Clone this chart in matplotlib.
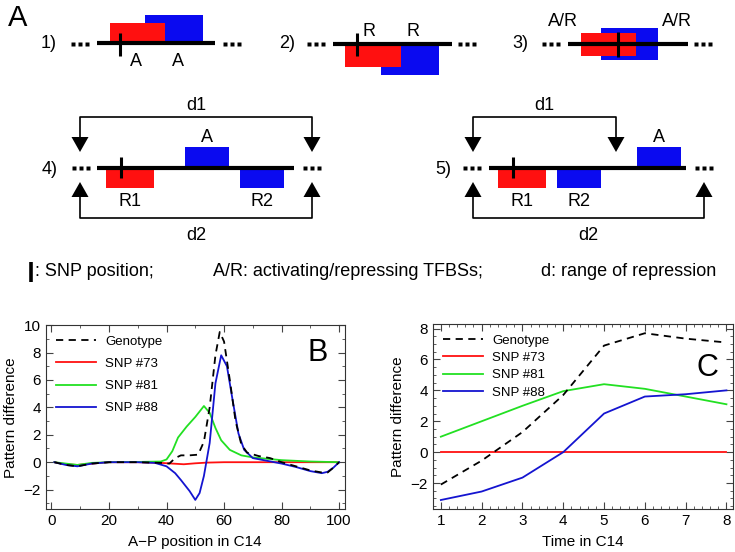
import matplotlib
matplotlib.use('Agg')
import matplotlib.pyplot as plt
from matplotlib.patches import Rectangle, Polygon
from matplotlib.ticker import MultipleLocator

plt.rcParams['font.family'] = ['Liberation Sans', 'DejaVu Sans']

# ---- panel B: pattern difference along A-P axis
b_x_geno = [1, 5, 9, 14, 20, 30, 38, 41, 43, 45, 48, 51, 53, 55, 57, 58.5, 60, 62,
            64, 66, 68, 72, 76, 80, 85, 90, 94, 96, 98, 100]
b_geno = [0, -0.2, -0.3, -0.1, 0, 0, -0.05, -0.1, 0.3, 0.5, 0.5, 0.55, 1.5, 4.0,
          7.8, 9.5, 8.8, 6.0, 3.0, 1.3, 0.7, 0.45, 0.3, 0.0, -0.3, -0.6, -0.75,
          -0.75, -0.4, 0]
b_x_73 = [1, 5, 9, 14, 20, 30, 38, 42, 46, 50, 54, 60, 70, 80, 90, 100]
b_snp73 = [0, -0.15, -0.2, -0.1, 0, 0, -0.05, -0.1, -0.15, -0.08, -0.03, 0, 0, 0, 0, 0]
b_x_81 = [1, 5, 9, 14, 20, 30, 38, 40, 42, 44, 47, 50, 53, 55, 57, 59, 62, 66, 70,
          75, 80, 90, 100]
b_snp81 = [0, -0.1, -0.2, -0.05, 0, 0.02, 0.05, 0.2, 0.8, 1.8, 2.6, 3.3, 4.1, 3.6,
           2.5, 1.6, 0.9, 0.5, 0.35, 0.25, 0.15, 0.05, 0]
b_x_88 = [1, 5, 9, 14, 20, 30, 36, 40, 43, 45, 48, 50, 51.5, 53, 55, 57, 59, 61, 63,
          65, 67, 70, 75, 80, 85, 90, 94, 96, 98, 100]
b_snp88 = [0, -0.2, -0.3, -0.1, 0, 0, -0.05, -0.3, -0.8, -1.3, -2.1, -2.75, -2.25,
           -1.0, 1.4, 5.75, 7.8, 7.0, 4.5, 2.1, 0.9, 0.3, 0.1, -0.1, -0.35, -0.65,
           -0.8, -0.7, -0.4, 0]

# ---- panel C: pattern difference over time
c_time = [1, 2, 3, 4, 5, 6, 7, 8]
c_geno = [-2.1, -0.55, 1.3, 3.7, 6.9, 7.7, 7.35, 7.1]
c_snp73 = [0, 0, 0, 0, 0, 0, 0, 0]
c_snp81 = [1.0, 2.0, 3.0, 3.95, 4.4, 4.1, 3.6, 3.1]
c_snp88 = [-3.1, -2.55, -1.65, 0.0, 2.5, 3.6, 3.75, 4.0]

labels = ['Genotype', 'SNP #73', 'SNP #81', 'SNP #88']
RED = '#ff1010'
BLUE = '#0a0af0'
GREEN = '#22e022'
LBLUE = '#1414d0'

fig = plt.figure(figsize=(7.35, 5.52), dpi=100)

# ---- panel A, drawn in pixel coordinates
ax_a = fig.add_axes([0, 0, 1, 1])
ax_a.set_xlim(0, 735)
ax_a.set_ylim(552, 0)
ax_a.axis('off')


def box(x0, x1, y0, y1, color, z=2):
    ax_a.add_patch(Rectangle((x0, y0), x1 - x0, y1 - y0, facecolor=color,
                             edgecolor='none', zorder=z))


def dna(x0, x1, y):
    ax_a.plot([x0, x1], [y, y], color='k', lw=3, solid_capstyle='butt', zorder=4)


def dots(x0, y):
    ax_a.plot([x0 + 2, x0 + 9, x0 + 16], [y] * 3, 's', ms=2.7, color='k',
              mec='none', zorder=4)


def snp(x, y0, y1):
    ax_a.plot([x, x], [y0, y1], color='k', lw=2.2, solid_capstyle='butt', zorder=5)


def txt(x, y, s, size=13):
    ax_a.text(x, y, s, ha='center', va='center', fontsize=size)


def bracket(x0, x1, ybar, ytip, label, ylab):
    # ybar above ytip -> arrows point down, otherwise up
    head = 15 if ytip > ybar else -15
    ax_a.plot([x0, x0, x1, x1], [ytip - head, ybar, ybar, ytip - head], color='k',
              lw=1.2, zorder=3)
    for x in (x0, x1):
        ax_a.add_patch(Polygon([(x - 8.5, ytip - head), (x + 8.5, ytip - head),
                                (x, ytip)], closed=True, facecolor='k',
                               edgecolor='none', zorder=3))
    txt((x0 + x1) / 2, ylab, label)


ax_a.text(8, 18, 'A', fontsize=21, va='center', ha='left')

# case 1
txt(49, 44, '1)')
dots(71, 44)
box(145, 203, 15, 43, BLUE)
box(110, 165, 23, 43, RED, z=3)
dna(97, 215, 43)
dots(223, 44)
snp(120, 33, 56)
txt(136, 62, 'A')
txt(178, 62, 'A')

# case 2
txt(287, 44, '2)')
dots(307, 44)
box(381, 439, 44, 75, BLUE)
box(345, 401, 44, 67, RED, z=3)
dna(333, 452, 44)
dots(458, 44)
snp(357, 33, 56)
txt(369, 31, 'R')
txt(413, 31, 'R')

# case 3
txt(520, 44, '3)')
dots(542, 44)
box(601, 658, 28, 60, BLUE)
box(581, 636, 33, 56, RED, z=3)
dna(568, 688, 44)
dots(694, 44)
snp(618, 32, 57)
txt(563, 22, 'A/R')
txt(677, 22, 'A/R')

# case 4
txt(50, 169, '4)')
dots(72, 168)
box(106, 154, 167, 188, RED)
box(185, 229, 147, 167, BLUE)
box(240, 284, 167, 188, BLUE)
dna(97, 294, 167.5)
dots(303, 168)
snp(121, 157, 178)
txt(130, 201, 'R1')
txt(262, 201, 'R2')
txt(207, 138, 'A')
bracket(80, 312, 116.5, 152, 'd1', 105)
bracket(80, 312, 217.5, 182, 'd2', 235)

# case 5
txt(443, 169, '5)')
dots(463, 168)
box(498, 546, 167, 188, RED)
box(557, 601, 167, 188, BLUE)
box(637, 681, 147, 167, BLUE)
dna(489, 686, 167.5)
dots(695, 168)
snp(513, 157, 178)
txt(522, 201, 'R1')
txt(579, 201, 'R2')
txt(659, 138, 'A')
bracket(473, 616, 116.5, 152, 'd1', 105)
bracket(473, 704, 217.5, 182, 'd2', 235)

# key line
ax_a.plot([31.5, 31.5], [262, 282], color='k', lw=2.6, solid_capstyle='butt')
ax_a.text(35, 272, ': SNP position;', fontsize=13, va='center', ha='left')
ax_a.text(213, 272, 'A/R: activating/repressing TFBSs;', fontsize=13, va='center', ha='left')
ax_a.text(541, 272, 'd: range of repression', fontsize=13, va='center', ha='left')


def style(ax):
    ax.tick_params(which='both', direction='in', top=True, right=True,
                   labelsize=11, color='#444444')
    ax.tick_params(which='major', length=5, width=0.8)
    ax.tick_params(which='minor', length=2.5, width=0.6)
    for s in ax.spines.values():
        s.set_linewidth(0.8)
        s.set_color('#333333')
    ax.set_ylabel('Pattern difference', fontsize=11, labelpad=4)


dash = (0, (4, 3))

# ---- panel B
ax_b = fig.add_axes([0.0622, 0.077, 0.407, 0.334])
ax_b.plot(b_x_geno, b_geno, color='k', lw=1.3, ls=dash, label=labels[0], zorder=4)
ax_b.plot(b_x_73, b_snp73, color=RED, lw=1.3, label=labels[1])
ax_b.plot(b_x_81, b_snp81, color=GREEN, lw=1.3, label=labels[2])
ax_b.plot(b_x_88, b_snp88, color=LBLUE, lw=1.3, label=labels[3])
ax_b.set_xlim(-2, 102)
ax_b.set_ylim(-3.45, 10)
ax_b.xaxis.set_major_locator(MultipleLocator(20))
ax_b.xaxis.set_minor_locator(MultipleLocator(10))
ax_b.yaxis.set_major_locator(MultipleLocator(2))
ax_b.yaxis.set_minor_locator(MultipleLocator(1))
style(ax_b)
ax_b.set_xlabel('A\u2212P position in C14', fontsize=11, labelpad=5)
ax_b.text(0.91, 0.85, 'B', transform=ax_b.transAxes, fontsize=22, ha='center', va='center')
ax_b.legend(loc='upper left', bbox_to_anchor=(0.0, 1.0), frameon=False, fontsize=9.5,
            handlelength=3.0, handletextpad=0.7, labelspacing=0.75, borderaxespad=0.4)

# ---- panel C
ax_c = fig.add_axes([0.5887, 0.0774, 0.408, 0.3357])
ax_c.plot(c_time, c_geno, color='k', lw=1.3, ls=dash, label=labels[0], zorder=4)
ax_c.plot(c_time, c_snp73, color=RED, lw=1.3, label=labels[1])
ax_c.plot(c_time, c_snp81, color=GREEN, lw=1.3, label=labels[2])
ax_c.plot(c_time, c_snp88, color=LBLUE, lw=1.3, label=labels[3])
ax_c.set_xlim(0.8, 8.15)
ax_c.set_ylim(-3.7, 8.3)
ax_c.xaxis.set_major_locator(MultipleLocator(1))
ax_c.xaxis.set_minor_locator(MultipleLocator(0.2))
ax_c.yaxis.set_major_locator(MultipleLocator(2))
ax_c.yaxis.set_minor_locator(MultipleLocator(0.5))
style(ax_c)
ax_c.set_xlabel('Time in C14', fontsize=11, labelpad=5)
ax_c.text(0.915, 0.76, 'C', transform=ax_c.transAxes, fontsize=22, ha='center', va='center')
ax_c.legend(loc='upper left', bbox_to_anchor=(0.0, 1.0), frameon=False, fontsize=9.5,
            handlelength=3.0, handletextpad=0.7, labelspacing=0.38, borderaxespad=0.4)

fig.savefig('out.png', dpi=100)
